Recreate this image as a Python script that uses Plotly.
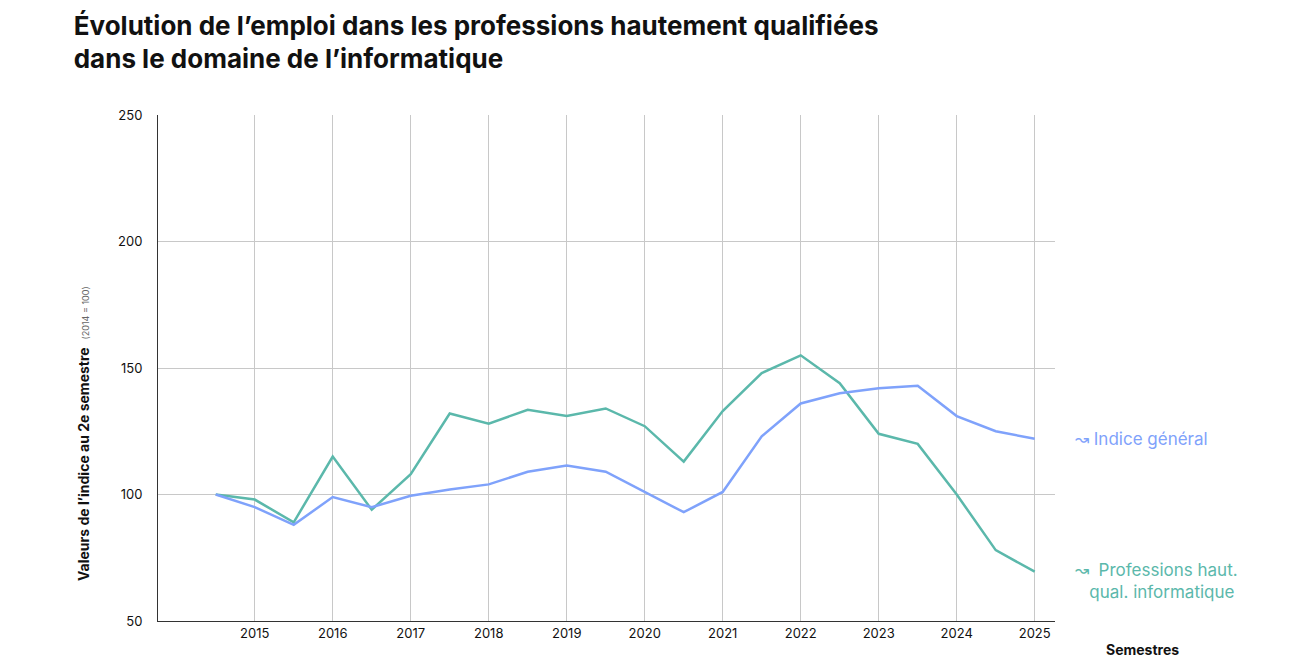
import plotly.graph_objects as go

x = [2014.5 + 0.5*i for i in range(22)]
it_prof = [100, 98, 89, 115, 94, 108, 132, 128, 133.5, 131, 134, 127, 113, 133, 148, 155, 144, 124, 120, 100, 78, 69.5]
general = [100, 95, 88, 99, 95, 99.5, 102, 104, 109, 111.5, 109, 101, 93, 101, 123, 136, 140, 142, 143, 131, 125, 122]
years = list(range(2015, 2026))
blue, green = "#7FA2FB", "#5BB8AB"
font = "Inter"

fig = go.Figure()
fig.add_trace(go.Scatter(x=x, y=it_prof, mode="lines", line=dict(color=green, width=2.5), hoverinfo="skip"))
fig.add_trace(go.Scatter(x=x, y=general, mode="lines", line=dict(color=blue, width=2.5), hoverinfo="skip"))

fig.update_layout(
    width=1289, height=667, paper_bgcolor="white", plot_bgcolor="white",
    margin=dict(l=150, r=242, t=107, b=54), showlegend=False,
    font=dict(family=font, size=13, color="#111"),
    title=dict(text="<b>Évolution de l’emploi dans les professions hautement qualifiées<br>dans le domaine de l’informatique</b>",
               x=0.051, xref="container", xanchor="left", y=0.96, yanchor="top",
               font=dict(family=font, size=26, color="#111")),
    xaxis=dict(range=[2013.76, 2025.26], tickvals=years, showgrid=True, gridcolor="#c8c8c8",
               showline=True, linecolor="#333", zeroline=False, ticks="", tickfont=dict(size=13)),
    yaxis=dict(range=[50, 250], tickvals=[50, 100, 150, 200, 250], showgrid=True, gridcolor="#c8c8c8",
               showline=True, linecolor="#333", zeroline=False, ticks="", ticklabelstandoff=12),
)
fig.add_annotation(text="<b>Semestres</b>", xref="paper", yref="paper", x=1.055, y=-0.035, xanchor="left", yanchor="top", showarrow=False, font=dict(size=14))
fig.add_annotation(text="<b>Valeurs de l’indice au 2e semestre</b>  <span style='font-size:9px;color:#666'>(2014 = 100)</span>",
                   xref="paper", yref="paper", x=-0.095, y=0.37, textangle=-90, showarrow=False, font=dict(size=14))
fig.add_annotation(text="↝ Indice général", xref="paper", yref="y", x=1.02, y=122, xanchor="left", showarrow=False, font=dict(size=17, color=blue))
fig.add_annotation(text="↝  Professions haut.<br>   qual. informatique", xref="paper", yref="y", x=1.02, y=66, xanchor="left", showarrow=False, align="left", font=dict(size=17, color=green))
fig.write_html("out.html")
